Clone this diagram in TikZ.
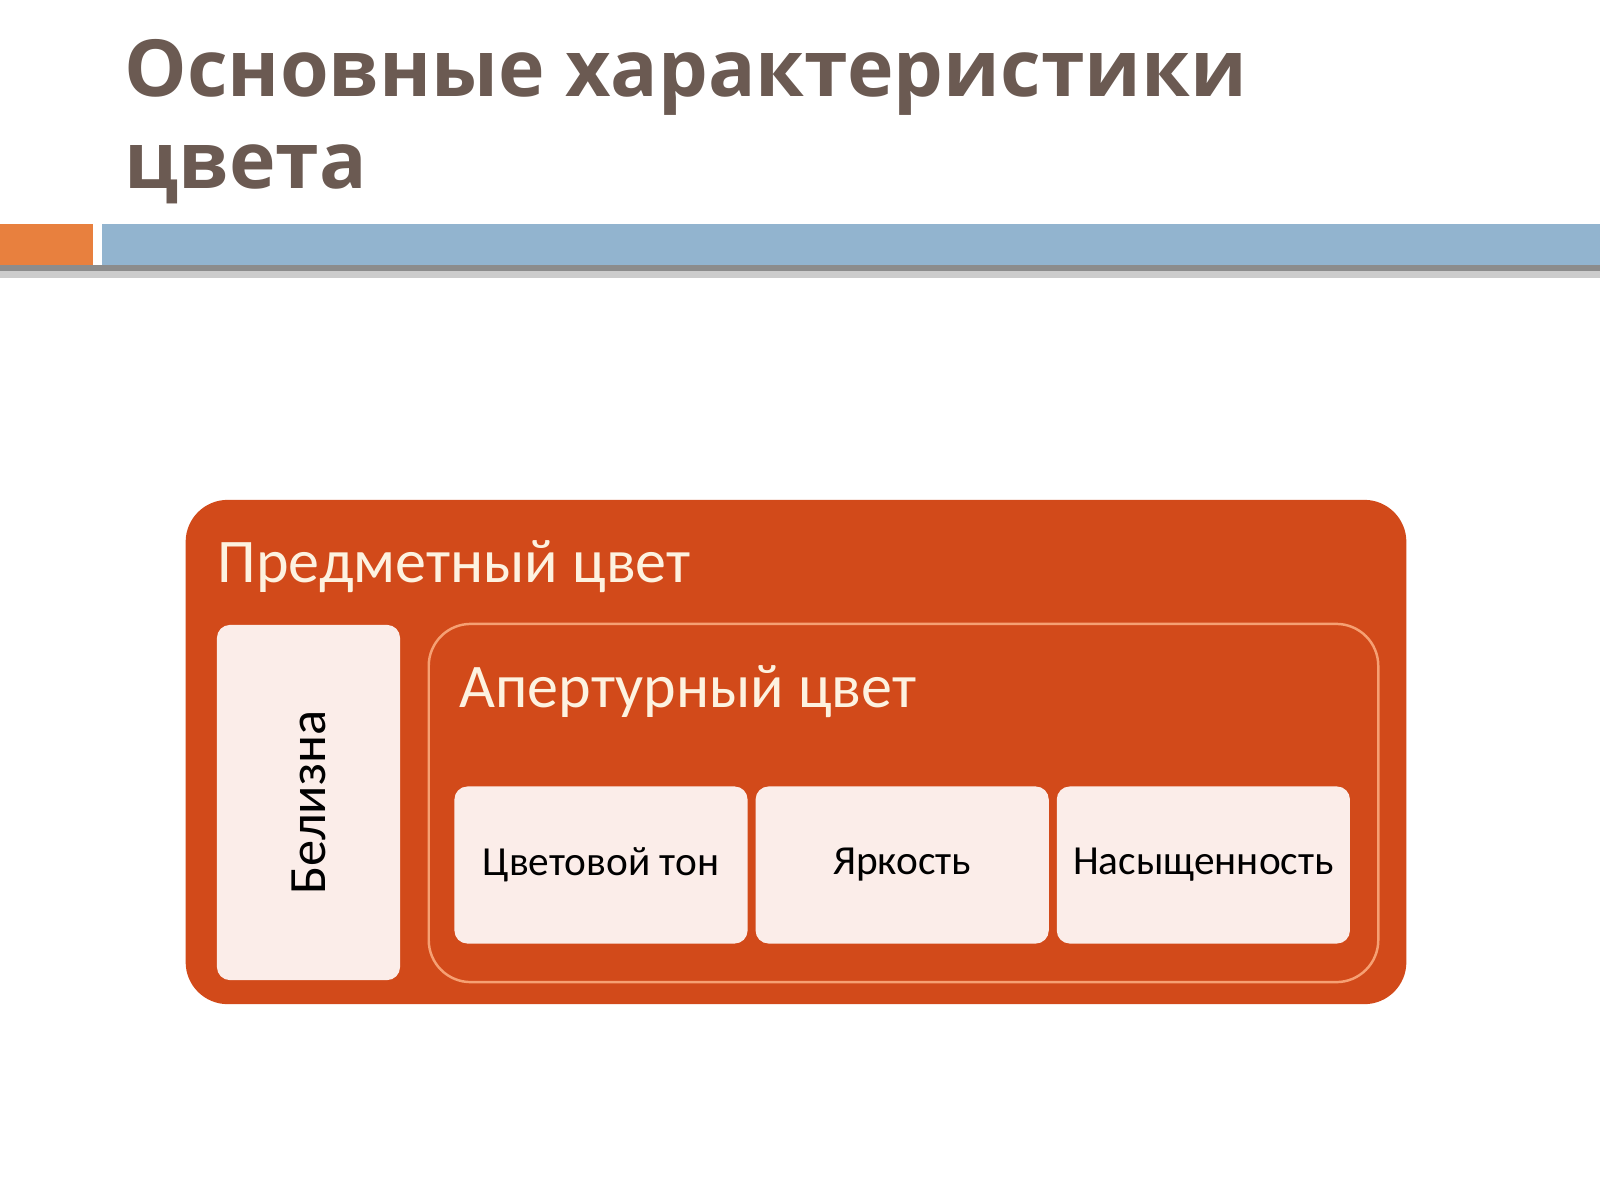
\documentclass[tikz,border=0pt]{standalone}
\usepackage{fontspec}
\setmainfont{Carlito}
\newfontfamily\headfont{Open Sans}
\usepackage{tikz}
\usetikzlibrary{positioning}

\definecolor{HeadGray}{RGB}{107,90,82}
\definecolor{BarOrange}{RGB}{232,128,62}
\definecolor{BarBlue}{RGB}{146,180,207}
\definecolor{BoxOrange}{RGB}{210,74,26}
\definecolor{FrameOrange}{RGB}{246,160,115}
\definecolor{CardFill}{RGB}{251,237,233}
\definecolor{LabelCream}{RGB}{253,242,224}

\tikzset{
    outerbox/.style={draw=none, fill=BoxOrange, rounded corners=0.42cm, inner sep=0pt, outer sep=0pt},
    framebox/.style={draw=FrameOrange, line width=0.7pt, rounded corners=0.42cm, inner sep=0pt, outer sep=0pt},
    cardbox/.style={fill=CardFill, rounded corners=0.13cm, inner sep=0pt, outer sep=0pt, text=black,
                    minimum width=2.93cm, minimum height=1.57cm, font=\fontsize{11.75}{14}\selectfont},
    grouplabel/.style={anchor=base west, inner sep=0pt, text=LabelCream, font=\fontsize{17.65}{21}\selectfont},
}

\begin{document}
\begin{tikzpicture}[x=0.01cm, y=-0.01cm]
    \useasboundingbox (0,0) rectangle (1600,1200);
    \fill[white] (0,0) rectangle (1600,1200);

    %Header
    \node[anchor=north west, inner sep=0pt, align=left, text=HeadGray,
          font=\headfont\bfseries\fontsize{22.4}{26.2}\selectfont] (Title) at (124,39)
          {Основные характеристики\\цвета};

    \fill[black!45] (0,265) rectangle (1600,271);
    \fill[black!20] (0,271) rectangle (1600,278);
    \fill[BarOrange] (0,224) rectangle (93,265);
    \fill[BarBlue] (102,224) rectangle (1600,265);

    %Boxes
    \node[outerbox, minimum width=12.20cm, minimum height=5.04cm] (Object) at (796,752) {};
    \node[grouplabel] (ObjectLabel) at (217,582) {Предметный цвет};

    \node[cardbox, rotate=90, minimum width=3.55cm, minimum height=1.83cm,
          font=\fontsize{14.9}{17}\selectfont] (White) at (308.5,802.5) {Белизна};

    \node[framebox, minimum width=9.49cm, minimum height=3.58cm] (Aperture) at (903.5,803) {};
    \node[grouplabel] (ApertureLabel) at (459,707) {Апертурный цвет};

    \node[cardbox] (Hue) at (601,865) {Цветовой тон};
    \node[cardbox, right = 0.08cm of Hue] (Lightness) {Яркость};
    \node[cardbox, right = 0.08cm of Lightness] (Saturation) {Насыщенность};

\end{tikzpicture}
\end{document}
